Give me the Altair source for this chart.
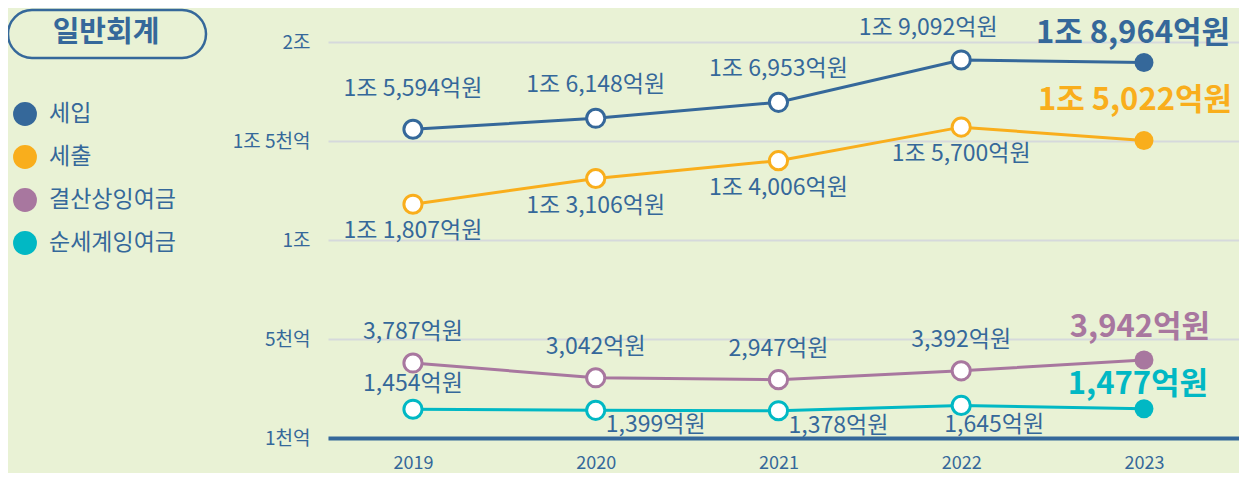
import altair as alt
import pandas as pd

years = [2019, 2020, 2021, 2022, 2023]
series = ["세입", "세출", "결산상잉여금", "순세계잉여금"]
revenue = [15594, 16148, 16953, 19092, 18964]
expenditure = [11807, 13106, 14006, 15700, 15022]
surplus = [3787, 3042, 2947, 3392, 3942]
net_surplus = [1454, 1399, 1378, 1645, 1477]
colors = ["#35689a", "#f9ae1c", "#a8779f", "#01b8c4"]
y_ticks = [0, 5000, 10000, 15000, 20000]
y_tick_labels = ["1천억", "5천억", "1조", "1조 5천억", "2조"]
box_title = "일반회계"

BLUE = "#35689a"
BG = "#e9f2d5"
FONT = "Noto Sans CJK KR"


def fmt(v):
    return f"1조 {v - 10000:,}억원" if v >= 10000 else f"{v:,}억원"


rows = []
for name, vals in zip(series, [revenue, expenditure, surplus, net_surplus]):
    for yr, v in zip(years, vals):
        rows.append({"year": yr, "series": name, "value": v, "label": fmt(v)})
df = pd.DataFrame(rows)
legend_df = pd.DataFrame({"series": series})

expr = "''"
for t, l in zip(reversed(y_ticks), reversed(y_tick_labels)):
    expr = f"datum.value == {t} ? '{l}' : ({expr})"

x_enc = alt.X(
    "year:Q",
    scale=alt.Scale(domain=[2018.535, 2023.52], nice=False, zero=False),
    axis=alt.Axis(values=years, format="d", title=None, grid=False, ticks=False,
                  domainColor=BLUE, domainWidth=4, labelFontSize=18, labelColor=BLUE,
                  labelPadding=16, labelFont=FONT),
)
y_enc = alt.Y(
    "value:Q",
    scale=alt.Scale(domain=[0, 20000], nice=False),
    axis=alt.Axis(values=y_ticks, labelExpr=expr, title=None, ticks=False, domain=False,
                  grid=True, gridColor="#d6d9dc", gridWidth=2, labelFontSize=19,
                  labelColor=BLUE, labelPadding=18, labelFont=FONT),
)

base = alt.Chart(df).encode(x=x_enc, y=y_enc)
color_scale = alt.Scale(domain=series, range=colors)

lines = base.mark_line(strokeWidth=3).encode(
    stroke=alt.Stroke("series:N", scale=color_scale, legend=None),
)

open_pts = base.transform_filter(alt.datum.year < 2023).mark_point(
    shape="circle", fill="white", filled=False, fillOpacity=1, opacity=1, strokeWidth=3, size=330
).encode(
    stroke=alt.Stroke("series:N", scale=color_scale, legend=None)
)

end_pts = base.transform_filter(alt.datum.year == 2023).mark_circle(size=360, opacity=1).encode(
    fill=alt.Fill("series:N", scale=color_scale, legend=None)
)


def lab(name, yrs, dx, dy, bold=False):
    color = colors[series.index(name)] if bold else BLUE
    yr_list = ",".join(str(y) for y in yrs)
    return base.transform_filter(
        f"datum.series == '{name}' && indexof([{yr_list}], datum.year) >= 0"
    ).mark_text(
        dx=dx, dy=dy, fontSize=31 if bold else 23, fontWeight="bold" if bold else "normal",
        font=FONT, color=color, baseline="middle", align="center"
    ).encode(text="label:N")


labels = [
    lab("세입", [2019], 0, -40),
    lab("세입", [2020, 2021], 0, -33),
    lab("세입", [2022], -33, -32),
    lab("세출", [2019, 2020, 2021, 2022], 0, 27),
    lab("결산상잉여금", [2019, 2020, 2021, 2022], 0, -31),
    lab("순세계잉여금", [2019], 0, -25),
    lab("순세계잉여금", [2020, 2021], 60, 15),
    lab("순세계잉여금", [2022], 33, 20),
    lab("세입", [2023], -11, -29, True),
    lab("세출", [2023], -9, -40, True),
    lab("결산상잉여금", [2023], -4, -32, True),
    lab("순세계잉여금", [2023], -6, -24, True),
]

data_layer = alt.layer(lines, open_pts, end_pts, *labels)

# legend panel (left side)
leg_y = alt.Y("series:N", scale=alt.Scale(type="point", domain=series, range=[72, 201], padding=0),
              axis=None)
leg_base = alt.Chart(legend_df).encode(y=leg_y)
leg_sym = leg_base.mark_circle(size=570, opacity=1).encode(
    x=alt.value(-303),
    fill=alt.Fill("series:N", scale=color_scale, legend=None),
)
leg_txt = leg_base.mark_text(fontSize=23, font=FONT, color=BLUE, align="left",
                             baseline="middle").encode(x=alt.value(-279), text="series:N")

deco = alt.Chart(pd.DataFrame({"t": [box_title]}))
box = deco.mark_rect(cornerRadius=24, fill=BG, stroke=BLUE, strokeWidth=2.5).encode(
    x=alt.value(-320), x2=alt.value(-122), y=alt.value(-32), y2=alt.value(16)
)
box_text = deco.mark_text(fontSize=29, fontWeight="bold", font=FONT, color=BLUE,
                          baseline="middle", align="center").encode(
    x=alt.value(-222), y=alt.value(-9), text="t:N"
)

legend_layer = alt.layer(leg_sym, leg_txt, box, box_text)

chart = alt.layer(data_layer, legend_layer).resolve_scale(y="independent").properties(
    width=911, height=396,
    padding={"left": 320, "top": 34, "right": 0, "bottom": 35},
    autosize=alt.AutoSizeParams(type="none"),
).configure(background=BG).configure_view(stroke=None)

chart.save("out.html", embed_options={"renderer": "svg", "actions": False})
